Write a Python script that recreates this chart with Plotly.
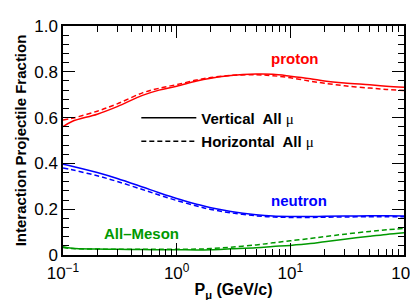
import plotly.graph_objects as go

# momentum grid (GeV/c)
p_mu = [0.1, 0.12, 0.2, 0.3, 0.5, 0.7, 1, 1.5, 2, 3, 5, 7, 10, 15, 20, 30, 50, 70, 100]

proton_vert = [0.560, 0.583, 0.615, 0.648, 0.697, 0.720, 0.737, 0.760, 0.772, 0.784, 0.790, 0.789,
               0.781, 0.770, 0.760, 0.751, 0.743, 0.737, 0.732]
proton_horiz = [0.590, 0.597, 0.628, 0.660, 0.708, 0.728, 0.744, 0.764, 0.775, 0.784, 0.787, 0.783,
                0.774, 0.759, 0.750, 0.739, 0.729, 0.723, 0.718]

neutron_vert = [0.396, 0.388, 0.360, 0.334, 0.297, 0.272, 0.247, 0.222, 0.206, 0.190, 0.176, 0.170,
                0.168, 0.168, 0.169, 0.170, 0.171, 0.171, 0.170]
neutron_horiz = [0.380, 0.372, 0.346, 0.321, 0.286, 0.262, 0.238, 0.214, 0.199, 0.184, 0.171, 0.166,
                 0.164, 0.164, 0.165, 0.166, 0.167, 0.167, 0.167]

meson_vert = [0.036, 0.029, 0.026, 0.025, 0.024, 0.023, 0.023, 0.022, 0.023, 0.027, 0.032, 0.037,
              0.042, 0.050, 0.058, 0.069, 0.082, 0.090, 0.097]
meson_horiz = [0.033, 0.028, 0.026, 0.025, 0.025, 0.025, 0.025, 0.026, 0.028, 0.034, 0.044, 0.053,
               0.062, 0.072, 0.080, 0.091, 0.103, 0.110, 0.116]

x_tickvals = [0.1, 1, 10, 100]
x_ticktext = ["10<sup>\u22121</sup>", "10<sup>0</sup>", "10<sup>1</sup>", "10<sup>2</sup>"]
x_minor = [m * d for d in (0.1, 1, 10) for m in range(2, 10)]
y_tickvals = [0, 0.2, 0.4, 0.6, 0.8, 1.0]
y_ticktext = ["0", "0.2", "0.4", "0.6", "0.8", "1.0"]

# label name, colour, vertical series, horizontal series, label position (log10 P, fraction)
series = [
    ("proton", "#ff0000", proton_vert, proton_horiz, 1.04, 0.857),
    ("neutron", "#0000ff", neutron_vert, neutron_horiz, 1.08, 0.237),
    ("All\u2013Meson", "#009900", meson_vert, meson_horiz, -0.313, 0.092),
]

fig = go.Figure()
annots = []
for name, color, yv, yh, lx, ly in series:
    fig.add_trace(go.Scatter(x=p_mu, y=yv, mode="lines", line=dict(color=color, width=1.5, shape="spline"),
                             showlegend=False))
    fig.add_trace(go.Scatter(x=p_mu, y=yh, mode="lines",
                             line=dict(color=color, width=1.5, dash="5px,3px", shape="spline"),
                             showlegend=False))
    annots.append(dict(x=lx, y=ly, text="<b>" + name + "</b>", xref="x", yref="y", showarrow=False,
                       xanchor="center", yanchor="middle",
                       font=dict(color=color, size=15, family="Liberation Sans")))

mu = "<span style='font-family:Liberation Serif;font-weight:normal'>\u03bc</span>"
fig.add_trace(go.Scatter(x=[None], y=[None], mode="lines", line=dict(color="black", width=1.5),
                         name="Vertical  All " + mu, legendgroup="a"))
fig.add_trace(go.Scatter(x=[None], y=[None], mode="lines", line=dict(color="black", width=1.5, dash="5px,3px"),
                         name="Horizontal  All " + mu, legendgroup="b"))

fig.update_layout(
    width=418, height=300,
    margin=dict(l=55, r=17, t=9, b=53),
    paper_bgcolor="white", plot_bgcolor="white",
    font=dict(family="Liberation Sans", size=17, color="black"),
    annotations=annots,
    legend=dict(x=0.215, y=0.67, xanchor="left", yanchor="top", bgcolor="rgba(0,0,0,0)",
                font=dict(size=15, family="Liberation Sans", color="black", weight="bold"),
                tracegroupgap=1, itemwidth=55),
    xaxis=dict(type="log", range=[-1, 2], tickvals=x_tickvals, ticktext=x_ticktext,
               ticks="inside", ticklen=12, tickwidth=1, tickcolor="black",
               showline=True, linecolor="black", linewidth=1.5, mirror="ticks",
               showgrid=False, zeroline=False, ticklabelstandoff=2,
               minor=dict(tickvals=x_minor, ticks="inside", ticklen=6, tickcolor="black", showgrid=False),
               title=dict(text="<b>P<sub>\u03bc</sub> (GeV/c)</b>", font=dict(size=16), standoff=2)),
    yaxis=dict(range=[0, 1.0], tickvals=y_tickvals, ticktext=y_ticktext,
               ticks="inside", ticklen=12, tickwidth=1, tickcolor="black",
               showline=True, linecolor="black", linewidth=1.5, mirror="ticks",
               showgrid=False, zeroline=False,
               minor=dict(dtick=0.04, ticks="inside", ticklen=6, tickcolor="black", showgrid=False),
               title=dict(text="<b>Interaction Projectile Fraction</b>", font=dict(size=15), standoff=4)),
)

fig.write_html("out.html")
